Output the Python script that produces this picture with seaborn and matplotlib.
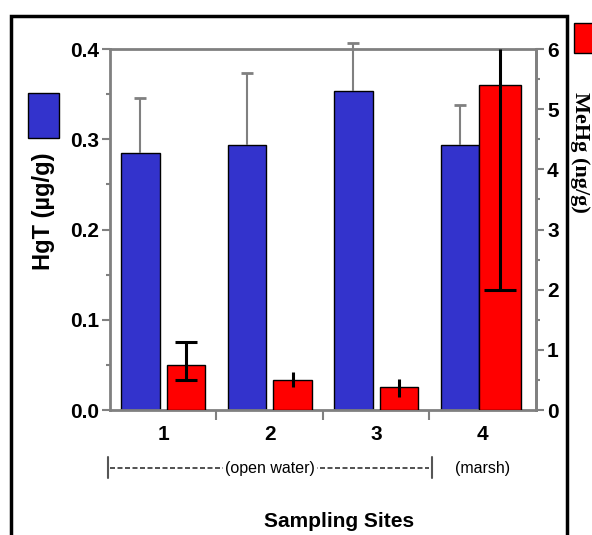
import numpy as np
import pandas as pd
import matplotlib
matplotlib.use("Agg")
import matplotlib.pyplot as plt
import matplotlib.transforms as mtransforms
from matplotlib.patches import Rectangle
from matplotlib.colors import to_rgba
from matplotlib.ticker import MultipleLocator
import seaborn as sns

# values
sites = ["1", "2", "3", "4"]
hgt = [0.285, 0.294, 0.353, 0.294]          # HgT (ug/g), left axis
hgt_err = [0.061, 0.079, 0.054, 0.044]      # upper error only
mehg = [0.75, 0.50, 0.38, 5.41]             # MeHg (ng/g), right axis
mehg_lo = [0.25, 0.12, 0.16, 3.41]
mehg_hi = [0.38, 0.13, 0.13, 0.59]
hgt_ticks = [0.0, 0.1, 0.2, 0.3, 0.4]
mehg_ticks = [0, 1, 2, 3, 4, 5, 6]

blue = "#3333cc"
red = "#ff0000"
grey = "#808080"

sns.set_style("white")
plt.rcParams["font.family"] = ["Liberation Sans", "DejaVu Sans"]
plt.rcParams["text.color"] = "black"

fig = plt.figure(figsize=(5.92, 5.35), dpi=100)
ax = fig.add_axes([0.1858, 0.2336, 0.7196, 0.6748])
ax2 = ax.twinx()

df = pd.DataFrame({
    "site": sites * 2,
    "series": ["HgT"] * 4 + ["MeHg"] * 4,
    "value": hgt + mehg,
})
bar_kw = dict(data=df, x="site", y="value", hue="series", hue_order=["HgT", "MeHg"],
              order=sites, palette={"HgT": blue, "MeHg": red}, width=0.86, gap=0.16,
              edgecolor="black", linewidth=1, legend=False, saturation=1)
# both series are dodged on each axis; each axis keeps only its own series
sns.barplot(ax=ax, **bar_kw)
sns.barplot(ax=ax2, **bar_kw)


def keep(axis, color):
    kept = []
    for p in list(axis.patches):
        if np.allclose(p.get_facecolor(), to_rgba(color)):
            kept.append(p)
        else:
            p.remove()
    return sorted(kept, key=lambda p: p.get_x())


blue_bars = keep(ax, blue)
red_bars = keep(ax2, red)

# marsh MeHg bar sits flush against its HgT bar
last = red_bars[-1]
last.set_x(last.get_x() - 0.065)
last.set_width(last.get_width() + 0.03)

# HgT error bars (grey, upward only)
for bar, v, e in zip(blue_bars, hgt, hgt_err):
    cx = bar.get_x() + bar.get_width() / 2
    ax.errorbar([cx], [v], yerr=[[0], [e]], fmt="none", ecolor=grey,
                elinewidth=1.5, capsize=0, clip_on=False, zorder=3)
    ax.plot([cx], [v + e], marker="_", ms=8, mew=2, color=grey, clip_on=False, zorder=3)

# MeHg error bars (black)
caps_lo = [16, 0, 0, 23]
caps_hi = [16, 0, 0, 0]
for bar, v, lo, hi, clo, chi in zip(red_bars, mehg, mehg_lo, mehg_hi, caps_lo, caps_hi):
    cx = bar.get_x() + bar.get_width() / 2
    ax2.errorbar([cx], [v], yerr=[[lo], [hi]], fmt="none", ecolor="black",
                 elinewidth=2.2, capsize=0, zorder=3)
    if clo:
        ax2.plot([cx], [v - lo], marker="_", ms=clo, mew=2.2, color="black", zorder=3)
    if chi:
        ax2.plot([cx], [v + hi], marker="_", ms=chi, mew=2.2, color="black", zorder=3)

# axes limits / ticks
ax.set_xlim(-0.5, 3.5)
ax.set_ylim(0, 0.4)
ax2.set_ylim(0, 6)
ax.set_xlabel("")
ax.set_ylabel("")
ax2.set_xlabel("")
ax2.set_ylabel("")

tick_font = dict(fontsize=15, fontweight="bold")
ax.set_xticks([0.5, 1.5, 2.5])
ax.set_xticklabels(["", "", ""])
ax.set_xticks(range(len(sites)), minor=True)
ax.set_xticklabels(sites, minor=True, **tick_font)
ax.tick_params(axis="x", which="major", bottom=True, direction="out", length=7,
               width=1.5, color=grey)
ax.tick_params(axis="x", which="minor", bottom=True, length=0, pad=11,
               labelcolor="black")

ax.set_yticks(hgt_ticks)
ax.set_yticklabels([f"{t:.1f}" for t in hgt_ticks], **tick_font)
ax.yaxis.set_minor_locator(MultipleLocator(0.05))
ax.tick_params(axis="y", which="major", left=True, direction="out", length=6,
               width=1.5, color=grey, pad=2, labelcolor="black")
ax.tick_params(axis="y", which="minor", left=True, direction="out", length=3,
               width=1.5, color=grey)

ax2.set_yticks(mehg_ticks)
ax2.set_yticklabels([str(t) for t in mehg_ticks], **tick_font)
ax2.yaxis.set_minor_locator(MultipleLocator(0.5))
ax2.tick_params(axis="y", which="major", right=True, direction="out", length=6,
                width=1.5, color=grey, pad=2, labelcolor="black")
ax2.tick_params(axis="y", which="minor", right=True, direction="out", length=3,
                width=1.5, color=grey)

for s in ax.spines.values():
    s.set_visible(True)
    s.set_color(grey)
    s.set_linewidth(2)
for name, s in ax2.spines.items():
    s.set_visible(name == "right")
    s.set_color(grey)
    s.set_linewidth(2)

# site grouping annotation under the axis
trans = mtransforms.blended_transform_factory(ax.transData, ax.transAxes)
ax.plot([-0.5, 2.5], [-0.161, -0.161], transform=trans, clip_on=False,
        color="#333333", lw=1.2, ls=(0, (3, 1.5)))
for xb in [-0.52, 2.52]:
    ax.plot([xb, xb], [-0.13, -0.188], transform=trans, clip_on=False,
            color="#555555", lw=1.5)
ax.text(1.0, -0.161, "(open water)", transform=trans, ha="center", va="center",
        fontsize=11.5, bbox=dict(facecolor="white", edgecolor="none", pad=1.5))
ax.text(3.0, -0.161, "(marsh)", transform=trans, ha="center", va="center",
        fontsize=11.5)

fig.text(0.573, 0.015, "Sampling Sites", ha="center", va="baseline",
         fontsize=15, fontweight="bold")
fig.text(43.5 / 592, 1 - 211 / 535, "HgT (\u00b5g/g)", rotation=90, ha="center",
         va="center", fontsize=17, fontweight="bold")
fig.text(580 / 592, 1 - 152 / 535, "MeHg (ng/g)", rotation=-90, ha="center",
         va="center", fontsize=16, fontweight="bold", family="Liberation Serif")

# legend swatches and outer frame
fig.add_artist(Rectangle((28 / 592, 1 - 138 / 535), 31 / 592, 45 / 535,
                         facecolor=blue, edgecolor="black", lw=1,
                         transform=fig.transFigure))
fig.add_artist(Rectangle((574 / 592, 1 - 53 / 535), 30 / 592, 30 / 535,
                         facecolor=red, edgecolor="black", lw=1,
                         transform=fig.transFigure))
fig.add_artist(Rectangle((11 / 592, -0.1), 556 / 592, 1.1 - 16 / 535,
                         fill=False, edgecolor="black", lw=2.5,
                         transform=fig.transFigure))

fig.savefig("out.png", dpi=100)
